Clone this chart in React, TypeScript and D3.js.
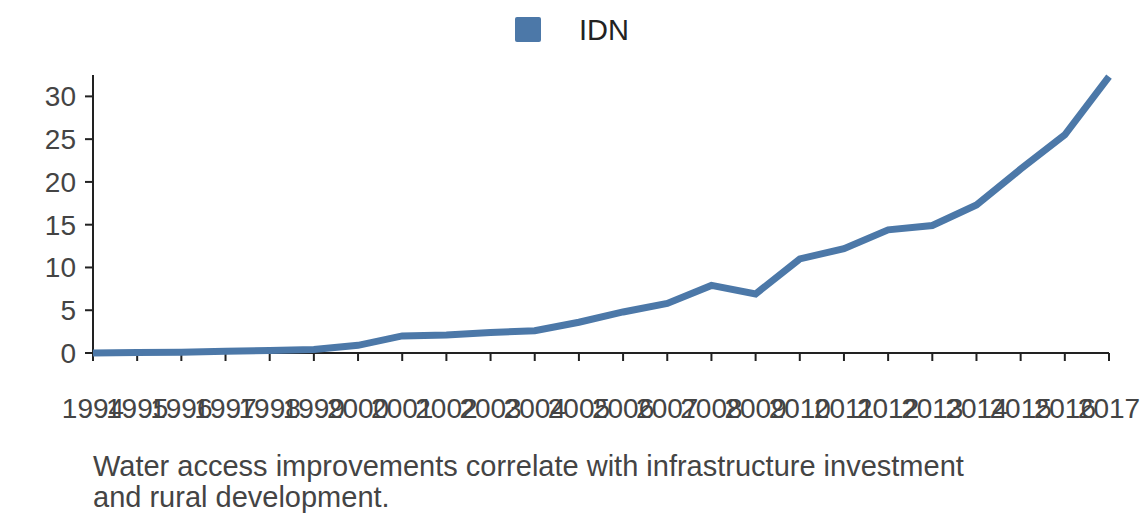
import React from "react";
import * as d3 from "d3";

const years = [1994,1995,1996,1997,1998,1999,2000,2001,2002,2003,2004,2005,2006,2007,2008,2009,2010,2011,2012,2013,2014,2015,2016,2017];
const values = [0,0.05,0.1,0.2,0.3,0.4,0.9,2.0,2.1,2.4,2.6,3.6,4.8,5.8,7.9,6.9,11.0,12.2,14.4,14.9,17.3,21.5,25.5,32.3];
const yTicks = [0,5,10,15,20,25,30];
const seriesName = "IDN";
const caption = ["Water access improvements correlate with infrastructure investment", "and rural development."];

export default function App() {
  const W = 1140, H = 528;
  const x = d3.scaleLinear().domain([1994, 2017]).range([93, 1109]);
  const y = d3.scaleLinear().domain([0, 32.5]).range([353, 75]);
  const line = d3.line<number>().x((_, i) => x(years[i])).y(v => y(v));
  const color = "#4c78a8";
  const font = "Liberation Sans, Arial, sans-serif";
  return (
    <svg width={W} height={H} style={{ position: "absolute", left: 0, top: 0 }} fontFamily={font}>
      <rect x={515} y={17} width={26} height={25} fill={color} rx={2} />
      <text x={579} y={40} fontSize={29} fill="#222">{seriesName}</text>
      <line x1={93} x2={93} y1={75} y2={353} stroke="#222" strokeWidth={2} />
      <line x1={93} x2={1109} y1={353} y2={353} stroke="#222" strokeWidth={2} />
      {yTicks.map(t => (
        <g key={t}>
          <line x1={85} x2={93} y1={y(t)} y2={y(t)} stroke="#222" strokeWidth={2} />
          <text x={76} y={y(t) + 10} fontSize={28} textAnchor="end" fill="#444">{t}</text>
        </g>
      ))}
      {years.map(t => (
        <g key={t}>
          <line x1={x(t)} x2={x(t)} y1={353} y2={361} stroke="#222" strokeWidth={2} />
          <text x={x(t)} y={418} fontSize={28} textAnchor="middle" fill="#444">{t}</text>
        </g>
      ))}
      <path d={line(values) || ""} fill="none" stroke={color} strokeWidth={7} />
      {caption.map((c, i) => (
        <text key={i} x={93} y={476 + i * 31} fontSize={29} fill="#444">{c}</text>
      ))}
    </svg>
  );
}
